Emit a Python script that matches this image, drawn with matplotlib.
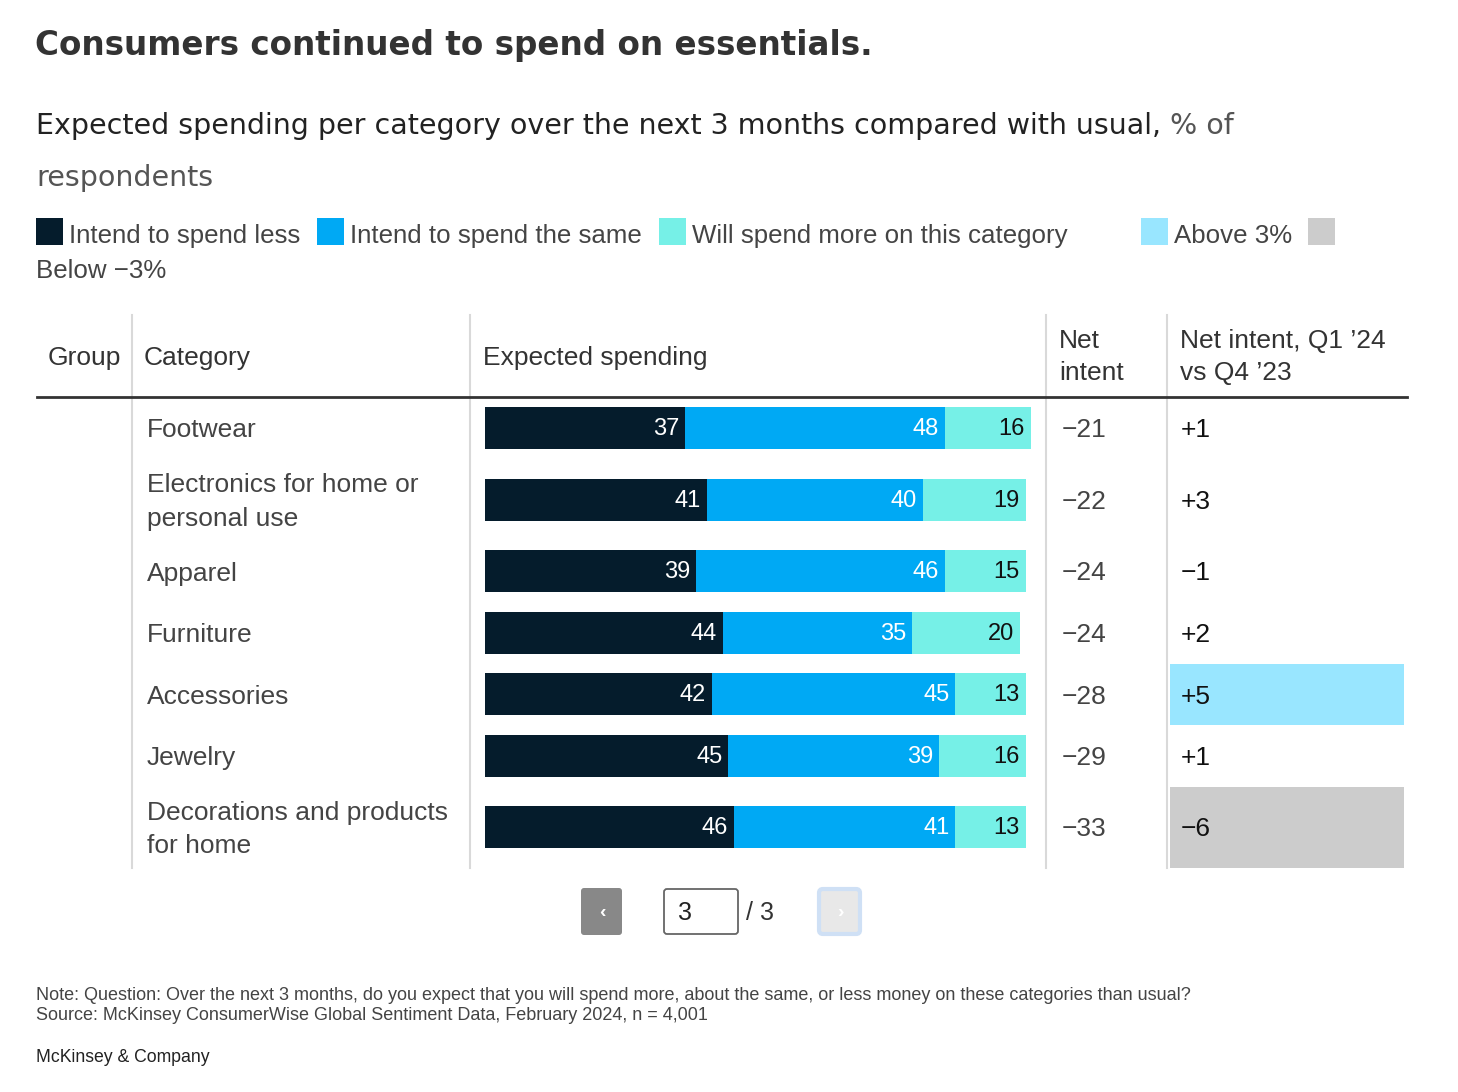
import matplotlib
matplotlib.use("Agg")
import matplotlib.pyplot as plt
from matplotlib.patches import Rectangle, FancyBboxPatch

W, H = 1458, 1092
FONT = "Liberation Sans"
TEXT = "#333333"

categories = ["Footwear", "Electronics for home or\npersonal use", "Apparel", "Furniture",
              "Accessories", "Jewelry", "Decorations and products\nfor home"]
spend_less = [37, 41, 39, 44, 42, 45, 46]
spend_same = [48, 40, 46, 35, 45, 39, 41]
spend_more = [16, 19, 15, 20, 13, 16, 13]
net_intent = [-21, -22, -24, -24, -28, -29, -33]
net_change = [1, 3, -1, 2, 5, 1, -6]

C_LESS = "#051c2c"
C_SAME = "#00a9f4"
C_MORE = "#76f0e7"
C_ABOVE = "#99e6ff"
C_BELOW = "#cccccc"

# row layout (pixel rows between the header rule and the table bottom)
row_edges = [397, 459, 541, 602, 664, 725, 787, 868]
row_mid = [(a + b) / 2 for a, b in zip(row_edges[:-1], row_edges[1:])]


def fx(x):
    return x / W


def fy(y):
    return 1 - y / H


def signed(v):
    return f"+{v}" if v > 0 else f"\u2212{abs(v)}"


fig = plt.figure(figsize=(W / 100, H / 100), dpi=100)
fig.patch.set_facecolor("white")

# full-figure overlay in pixel coordinates for table furniture
ov = fig.add_axes([0, 0, 1, 1])
ov.set_xlim(0, W)
ov.set_ylim(H, 0)
ov.axis("off")

# title and subtitle
fig.text(fx(35), fy(45), "Consumers continued to spend on essentials.", fontsize=23.5,
         fontweight="bold", color=TEXT, family="DejaVu Sans", va="center")
t = fig.text(fx(36), fy(126), "Expected spending per category over the next 3 months compared with usual,",
             fontsize=20.5, color="#222222", family="DejaVu Sans", va="center")
fig.canvas.draw()
bb = t.get_window_extent()
fig.text(bb.x1 / W + 0.006, fy(126), "% of", fontsize=20.5, color="#555555", family="DejaVu Sans",
         va="center")
fig.text(fx(36), fy(178), "respondents", fontsize=20.5, color="#555555", family="DejaVu Sans", va="center")

# legend
legend_items = [(36, C_LESS, "Intend to spend less"), (317, C_SAME, "Intend to spend the same"),
                (659, C_MORE, "Will spend more on this category"), (1141, C_ABOVE, "Above 3%"),
                (1308, C_BELOW, "")]
for x0, col, lab in legend_items:
    ov.add_patch(Rectangle((x0, 218), 27, 27, color=col, lw=0))
    if lab:
        fig.text(fx(x0 + 33), fy(236), lab, fontsize=18.6, color="#444444", family=FONT, va="center")
fig.text(fx(36), fy(271), "Below \u22123%", fontsize=18.6, color="#444444", family=FONT, va="center")

# table header
hdr = dict(fontsize=19, color=TEXT, family=FONT, va="center")
fig.text(fx(48), fy(358), "Group", **hdr)
fig.text(fx(144), fy(358), "Category", **hdr)
fig.text(fx(483), fy(358), "Expected spending", **hdr)
fig.text(fx(1059), fy(357), "Net\nintent", linespacing=1.43, **hdr)
fig.text(fx(1180), fy(357), "Net intent, Q1 \u201924\nvs Q4 \u201923", linespacing=1.43, **hdr)

for x in [132, 470, 1046, 1167]:
    ov.plot([x, x], [315, 868], color="#d9d9d9", lw=1.5)
ov.plot([37, 1407], [397, 397], color="#333333", lw=2)

# highlighted change cells
for i, v in enumerate(net_change):
    if v > 3:
        ov.add_patch(Rectangle((1170, row_edges[i]), 234, row_edges[i + 1] - row_edges[i],
                               color=C_ABOVE, lw=0))
    elif v < -3:
        ov.add_patch(Rectangle((1170, row_edges[i]), 234, row_edges[i + 1] - row_edges[i],
                               color=C_BELOW, lw=0))

cell = dict(fontsize=19, color="#444444", family=FONT, va="center")
for i, cat in enumerate(categories):
    y = fy(row_mid[i] + 2)
    fig.text(fx(147), y, cat, linespacing=1.5, **cell)
    fig.text(fx(1062), y, signed(net_intent[i]), **cell)
    fig.text(fx(1181), y, signed(net_change[i]), fontsize=19, color="#111111",
             family=FONT, va="center")

# stacked bars
ax = fig.add_axes([fx(485), fy(868), (1031 - 485) / W, (868 - 397) / H])
ax.set_xlim(0, 101)
ax.set_ylim(868, 397)
ax.axis("off")
left = [0] * len(categories)
for vals, col, tc in [(spend_less, C_LESS, "white"), (spend_same, C_SAME, "white"),
                      (spend_more, C_MORE, "#111111")]:
    ax.barh(row_mid, vals, left=left, height=42, color=col, lw=0)
    for y, l, v in zip(row_mid, left, vals):
        ax.text(l + v - 1.1, y + 1, str(v), ha="right", va="center", color=tc,
                fontsize=17, family=FONT)
    left = [a + b for a, b in zip(left, vals)]

# pagination
ov.add_patch(FancyBboxPatch((581, 888), 41, 47, boxstyle="round,pad=0,rounding_size=3",
                            fc="#888888", ec="none"))
ov.text(602, 912, "\u2039", color="white", ha="center", va="center", fontsize=14,
        fontweight="bold", family=FONT)
ov.add_patch(FancyBboxPatch((664, 889), 74, 45, boxstyle="round,pad=0,rounding_size=3",
                            fc="white", ec="#666666", lw=1.3))
ov.text(678, 913, "3", color="#222222", va="center", fontsize=18, family=FONT)
ov.text(746, 913, "/ 3", color="#333333", va="center", fontsize=18, family=FONT)
ov.add_patch(FancyBboxPatch((819, 889), 41, 45, boxstyle="round,pad=0,rounding_size=4",
                            fc="#e8e8e8", ec="#cfe0f5", lw=3))
ov.text(840, 912, "\u203a", color="white", ha="center", va="center", fontsize=14,
        fontweight="bold", family=FONT)

# notes
note = dict(fontsize=13, color="#444444", family=FONT, va="center")
fig.text(fx(36), fy(995), "Note: Question: Over the next 3 months, do you expect that you will spend more, "
         "about the same, or less money on these categories than usual?", **note)
fig.text(fx(36), fy(1016), "Source: McKinsey ConsumerWise Global Sentiment Data, February 2024, n = 4,001", **note)
fig.text(fx(36), fy(1058), "McKinsey & Company", fontsize=12.7, color="#222222", family=FONT, va="center")

fig.savefig("out.png", dpi=100, facecolor="white")
